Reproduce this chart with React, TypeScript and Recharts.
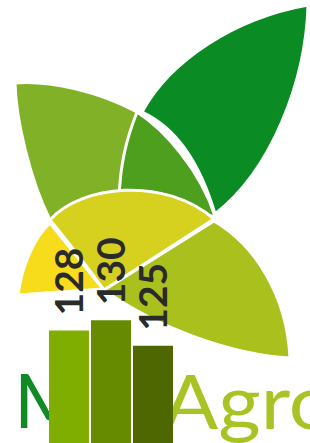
import React from "react";
import { BarChart, Bar, XAxis, YAxis, Cell, LabelList } from "recharts";

const categories = ["A", "B", "C"];
const values = [128, 130, 125];
const barColors = ["#7fae00", "#668a00", "#4f6700"];

const data = categories.map((c, i) => ({ name: c, value: values[i] }));

const RotLabel = (props: any) => {
  const { x, y, width, value } = props;
  const cx = x + width / 2 + 14;
  const cy = y - 15;
  return (
    <text
      x={cx}
      y={cy}
      transform={`rotate(-90 ${cx} ${cy})`}
      textAnchor="start"
      fill="#2a2a2a"
      fontFamily="Lato, 'Open Sans', sans-serif"
      fontWeight={700}
      fontSize={39}
    >
      {value}
    </text>
  );
};

const Logo = () => (
  <svg width={310} height={443} style={{ position: "absolute", left: 0, top: 0 }}>
    <g stroke="#ffffff" strokeWidth={3} strokeLinejoin="round">
      <path d="M 137 112 C 165 130 200 170 215 216 L 120 216 L 118 192 C 120 160 125 135 137 112 Z" fill="#4f9f1f" />
      <path d="M 15 83 C 50 80 100 92 137 112 C 126 140 120 165 119 200 L 50 220 C 30 180 16 120 15 83 Z" fill="#80b127" />
      <path d="M 142 112 C 170 60 235 18 308 5 C 306 80 272 170 215 214 Q 192 135 142 112 Z" fill="#0a8b24" />
      <path d="M 50 223 C 34 238 22 265 18 295 L 103 289 Z" fill="#f7dc1b" />
      <path d="M 50 220 C 80 185 165 176 214 219 L 104 290 C 88 268 70 244 50 220 Z" fill="#d6d11e" />
      <path d="M 214 221 C 255 245 287 295 290 358 C 235 355 160 330 104 290 Z" fill="#aac11d" />
    </g>
    <text x={14} y={428} fill="#0f8a25" fontFamily="Lato, sans-serif" fontWeight={400} fontSize={76} textLength={119} lengthAdjust="spacingAndGlyphs">MB</text>
    <text x={163} y={429} fill="#a8c424" fontFamily="Lato, sans-serif" fontWeight={400} fontSize={76} textLength={172} lengthAdjust="spacingAndGlyphs">Agro</text>
  </svg>
);

export default function App() {
  return (
    <div style={{ position: "absolute", left: 0, top: 0, width: 310, height: 443, overflow: "hidden", background: "#fff" }}>
      <Logo />
      <div style={{ position: "absolute", left: 0, top: 0 }}>
        <BarChart width={310} height={443} data={data} margin={{ top: 13, right: 136, left: 48, bottom: 0 }}>
          <XAxis dataKey="name" hide />
          <YAxis hide domain={[106, 190]} />
          <Bar dataKey="value" barSize={40} isAnimationActive={false}>
            {data.map((d, i) => (
              <Cell key={d.name} fill={barColors[i]} />
            ))}
            <LabelList dataKey="value" content={RotLabel} />
          </Bar>
        </BarChart>
      </div>
    </div>
  );
}
